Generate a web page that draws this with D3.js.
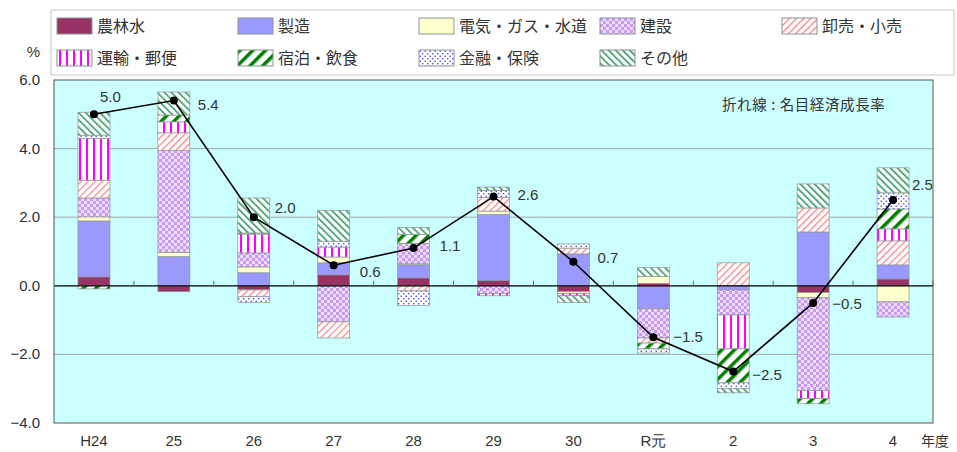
<!DOCTYPE html>
<html>
<head>
<meta charset="utf-8">
<script src="https://cdn.jsdelivr.net/npm/d3@7"></script>
<style>
  body { margin: 0; background: #fff; }
  text { font-family: "Noto Sans CJK JP", "Liberation Sans", sans-serif; fill: #333; }
</style>
</head>
<body>
<svg id="chart" width="957" height="452"></svg>
<script>
// categories (fiscal years) and series contributions (% points)
const categories = ["H24", "25", "26", "27", "28", "29", "30", "R元", "2", "3", "4"]
const seriesNames = ["農林水", "製造", "電気・ガス・水道", "建設", "卸売・小売", "運輸・郵便", "宿泊・飲食", "金融・保険", "その他"]

const agri      = [0.26, -0.17, -0.12, 0.32, 0.23, 0.15, -0.17, 0.07, 0, -0.20, 0.20]
const manuf     = [1.63, 0.85, 0.38, 0.35, 0.38, 1.93, 0.93, -0.67, -0.12, 1.57, 0.41]
const utility   = [0.12, 0.12, 0.17, 0.17, 0.03, 0.10, -0.06, 0.20, 0, -0.15, -0.47]
const constr    = [0.55, 2.97, 0.41, -1.05, 0.60, -0.23, 0, -0.85, -0.73, -2.71, -0.44]
const trade     = [0.52, 0.52, -0.20, -0.47, -0.15, 0.40, 0.17, -0.15, 0.67, 0.70, 0.70]
const transport = [1.22, 0.32, 0.55, 0.29, 0, -0.06, -0.06, 0, -0.99, -0.23, 0.35]
const hotel     = [-0.09, 0.20, 0.03, 0, 0.26, 0, 0, -0.17, -0.99, -0.15, 0.58]
const finance   = [0.09, 0, -0.17, 0.17, -0.42, 0.20, 0.12, -0.12, -0.17, 0, 0.47]
const other     = [0.67, 0.67, 1.02, 0.90, 0.20, 0.10, -0.20, 0.26, -0.12, 0.70, 0.73]

// nominal growth rate (line)
const growth = [5.0, 5.4, 2.0, 0.6, 1.1, 2.6, 0.7, -1.5, -2.5, -0.5, 2.5]
const growthLabels = ["5.0", "5.4", "2.0", "0.6", "1.1", "2.6", "0.7", "−1.5", "−2.5", "−0.5", "2.5"]
const yTicks = [6, 4, 2, 0, -2, -4]

const seriesValues = [agri, manuf, utility, constr, trade, transport, hotel, finance, other]
const fills = ["url(#p0)", "url(#p1)", "url(#p2)", "url(#p3)", "url(#p4)", "url(#p5)", "url(#p6)", "url(#p7)", "url(#p8)"]

// plot area
const margin = { top: 80, right: 24, bottom: 29, left: 54 }
const W = 957, H = 452

const svg = d3.select("#chart")

// ---- patterns ----
const defs = svg.append("defs")
function pat(id, w, h, rot) {
    const p = defs.append("pattern").attr("id", id)
        .attr("patternUnits", "userSpaceOnUse")
        .attr("width", w).attr("height", h)
    if (rot) p.attr("patternTransform", "rotate(" + rot + ")")
    return p
}
pat("p0", 4, 4).append("rect").attr("width", 4).attr("height", 4).attr("fill", "#993366")
pat("p1", 4, 4).append("rect").attr("width", 4).attr("height", 4).attr("fill", "#9999ff")
pat("p2", 4, 4).append("rect").attr("width", 4).attr("height", 4).attr("fill", "#ffffcc")
let p = pat("p3", 6, 6)
p.append("rect").attr("width", 6).attr("height", 6).attr("fill", "#eedcfc")
p.append("rect").attr("width", 3).attr("height", 3).attr("fill", "#c99af3")
p.append("rect").attr("x", 3).attr("y", 3).attr("width", 3).attr("height", 3).attr("fill", "#c99af3")
p = pat("p4", 5, 5, 45)
p.append("rect").attr("width", 5).attr("height", 5).attr("fill", "#fff")
p.append("rect").attr("width", 1.2).attr("height", 5).attr("fill", "#ff8080")
p = pat("p5", 7, 4)
p.append("rect").attr("width", 7).attr("height", 4).attr("fill", "#fff")
p.append("rect").attr("x", 2).attr("width", 2).attr("height", 4).attr("fill", "#ff00ff")
p = pat("p6", 9, 9, 45)
p.append("rect").attr("width", 9).attr("height", 9).attr("fill", "#fff")
p.append("rect").attr("width", 3.5).attr("height", 9).attr("fill", "#008000")
p = pat("p7", 5, 5)
p.append("rect").attr("width", 5).attr("height", 5).attr("fill", "#fff")
p.append("circle").attr("cx", 1.2).attr("cy", 1.2).attr("r", 0.8).attr("fill", "#3333ff")
p.append("circle").attr("cx", 3.7).attr("cy", 3.7).attr("r", 0.8).attr("fill", "#3333ff")
p = pat("p8", 5, 5, -45)
p.append("rect").attr("width", 5).attr("height", 5).attr("fill", "#fff")
p.append("rect").attr("width", 1.6).attr("height", 5).attr("fill", "#339966")

// ---- scales ----
const x = d3.scaleBand()
    .domain(categories)
    .range([margin.left, W - margin.right])
    .paddingInner(0.6)
    .paddingOuter(0.3)

const y = d3.scaleLinear()
    .domain([-4, 6])
    .range([H - margin.bottom, margin.top])

// background
svg.append("rect")
    .attr("x", margin.left).attr("y", margin.top)
    .attr("width", W - margin.left - margin.right)
    .attr("height", H - margin.top - margin.bottom)
    .attr("fill", "#ccffff")

// gridlines
svg.append("g")
    .selectAll("line")
    .data(yTicks.filter(d => d !== 0 && d !== 6 && d !== -4))
    .enter().append("line")
    .attr("x1", margin.left).attr("x2", W - margin.right)
    .attr("y1", d => y(d)).attr("y2", d => y(d))
    .attr("stroke", "#a0a8a8").attr("stroke-width", 1)

// y axis labels
svg.append("g")
    .selectAll("text")
    .data(yTicks)
    .enter().append("text")
    .attr("x", 40).attr("y", d => y(d) + 5)
    .attr("text-anchor", "end")
    .style("font-family", "'Liberation Sans', sans-serif")
    .style("font-size", "15px")
    .style("fill", "#2a2f3a")
    .text(d => d < 0 ? "−" + d3.format(".1f")(-d) : d3.format(".1f")(d))

svg.append("text").attr("x", 40).attr("y", 57).attr("text-anchor", "end")
    .style("font-family", "'Liberation Sans', sans-serif")
    .style("font-size", "15px").text("%")

// ---- stacked bars ----
const segments = []
categories.forEach((c, i) => {
    let pos = 0, neg = 0
    seriesValues.forEach((vals, s) => {
        const v = vals[i]
        if (v === 0) return
        if (v > 0) { segments.push({ c: c, s: s, y0: pos, y1: pos + v }); pos += v }
        else { segments.push({ c: c, s: s, y0: neg + v, y1: neg }); neg += v }
    })
})

svg.append("g")
    .selectAll("rect")
    .data(segments)
    .enter().append("rect")
    .attr("x", d => x(d.c))
    .attr("width", x.bandwidth())
    .attr("y", d => y(d.y1))
    .attr("height", d => y(d.y0) - y(d.y1))
    .attr("fill", d => fills[d.s])
    .attr("stroke", "#8c9494")
    .attr("stroke-width", 0.7)

// zero line + small ticks between categories
svg.append("line")
    .attr("x1", margin.left).attr("x2", W - margin.right)
    .attr("y1", y(0)).attr("y2", y(0))
    .attr("stroke", "#000").attr("stroke-width", 1.3)

const step = x.step()
svg.append("g")
    .selectAll("line")
    .data(d3.range(1, categories.length + 1))
    .enter().append("line")
    .attr("x1", k => margin.left + k * step).attr("x2", k => margin.left + k * step)
    .attr("y1", y(0)).attr("y2", y(0) - 5)
    .attr("stroke", "#666")

// plot frame
svg.append("rect")
    .attr("x", margin.left).attr("y", margin.top)
    .attr("width", W - margin.left - margin.right)
    .attr("height", H - margin.top - margin.bottom)
    .attr("fill", "none").attr("stroke", "#555").attr("stroke-width", 1)

// ---- growth line ----
const cx = c => x(c) + x.bandwidth() / 2
svg.append("path")
    .datum(growth)
    .attr("fill", "none")
    .attr("stroke", "#000")
    .attr("stroke-width", 1.6)
    .attr("d", d3.line()
        .x((d, i) => cx(categories[i]))
        .y(d => y(d)))

svg.append("g")
    .selectAll("circle")
    .data(growth)
    .enter().append("circle")
    .attr("cx", (d, i) => cx(categories[i]))
    .attr("cy", d => y(d))
    .attr("r", 4)
    .attr("fill", "#000")

// label offsets (layout only)
const labelDx = [6, 24, 21, 26, 26, 24, 24, 20, 19, 19, 19]
const labelDy = [-12, 9, -4, 12, 3, 3, 1, 5, 8, 6, -10]
svg.append("g")
    .selectAll("text")
    .data(growth)
    .enter().append("text")
    .attr("x", (d, i) => cx(categories[i]) + labelDx[i])
    .attr("y", (d, i) => y(d) + labelDy[i])
    .style("font-family", "'Liberation Sans', sans-serif")
    .style("font-size", "15px")
    .text((d, i) => growthLabels[i])

svg.append("text").attr("x", 722).attr("y", 110)
    .style("font-size", "14.5px")
    .style("letter-spacing", "0.6px")
    .text("折れ線 : 名目経済成長率")

// x axis labels
svg.append("g")
    .selectAll("text")
    .data(categories)
    .enter().append("text")
    .attr("x", c => cx(c))
    .attr("y", 446)
    .attr("text-anchor", "middle")
    .style("font-family", "'Liberation Sans Narrow', 'Liberation Sans', sans-serif")
    .style("font-size", "15px")
    .text(c => c)

svg.append("text").attr("x", 921).attr("y", 446)
    .style("font-size", "14px").text("年度")

// ---- legend ----
svg.append("rect")
    .attr("x", 51).attr("y", 10).attr("width", 903).attr("height", 65)
    .attr("fill", "#fff").attr("stroke", "#c8c8c8")

const legendX = [57, 238, 419, 600, 782]
const legend = svg.append("g")
    .selectAll("g")
    .data(seriesNames)
    .enter().append("g")
    .attr("transform", (d, i) => "translate(" + legendX[i % 5] + "," + (i < 5 ? 18 : 50) + ")")
legend.append("rect")
    .attr("width", 35).attr("height", 16)
    .attr("fill", (d, i) => fills[i])
    .attr("stroke", "#8c9494")
legend.append("text")
    .attr("x", 40).attr("y", 14)
    .style("font-size", "16px")
    .text(d => d)
</script>
</body>
</html>
